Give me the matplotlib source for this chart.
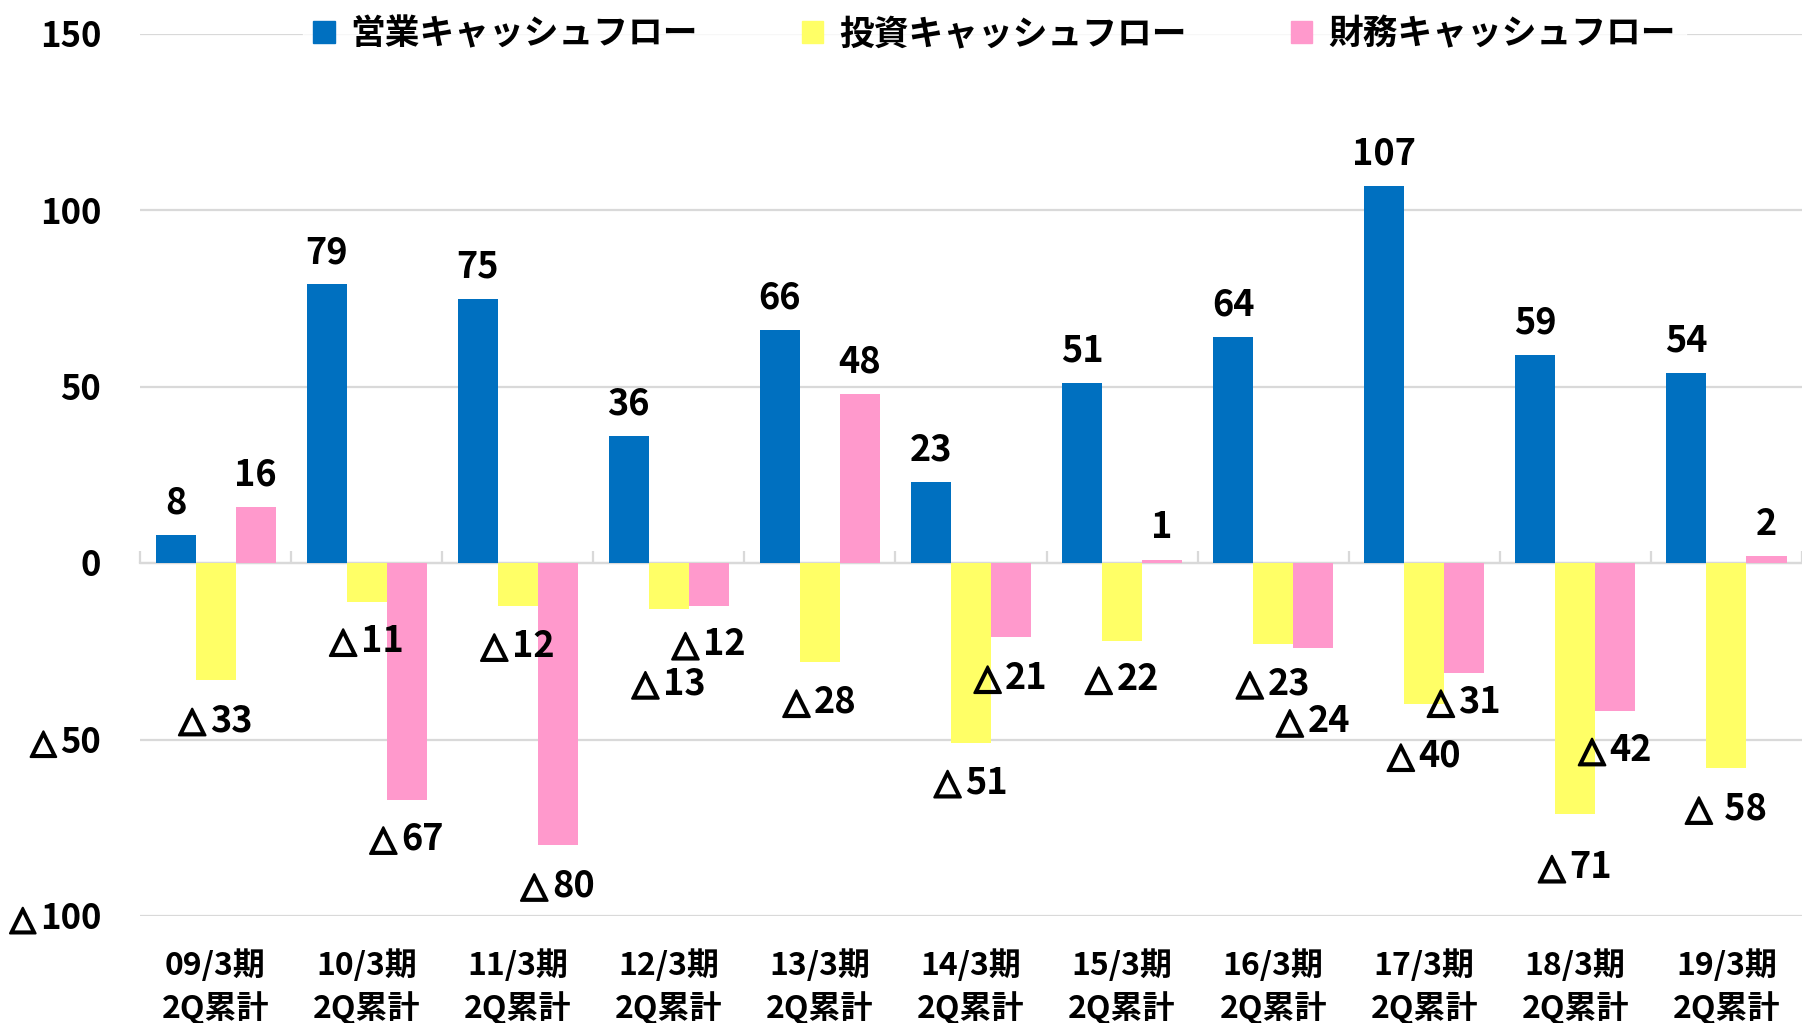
import numpy as np
import matplotlib
matplotlib.use("Agg")
import matplotlib.pyplot as plt
import matplotlib.transforms as mtransforms
import matplotlib.patheffects as pe
from matplotlib.patches import Patch
from matplotlib.offsetbox import TextArea, HPacker, AnnotationBbox

plt.rcParams['font.family'] = ['Noto Sans CJK JP', 'DejaVu Sans']
plt.rcParams['font.weight'] = 'bold'

# data (億円)
periods = ['09/3期', '10/3期', '11/3期', '12/3期', '13/3期', '14/3期',
           '15/3期', '16/3期', '17/3期', '18/3期', '19/3期']
period_sub = '2Q累計'
series_names = ['営業キャッシュフロー', '投資キャッシュフロー', '財務キャッシュフロー']
operating = [8, 79, 75, 36, 66, 23, 51, 64, 107, 59, 54]
investing = [-33, -11, -12, -13, -28, -51, -22, -23, -40, -71, -58]
financing = [16, -67, -80, -12, 48, -21, 1, -24, -31, -42, 2]
yticks = [-100, -50, 0, 50, 100, 150]

# hand placed label heights for negative values (as in the original)
inv_label_y = [-44.6, -22.1, -23.5, -34.2, -39.4, -62.2, -32.9, -34.2, -54.7, -86.3, -69.7]
fin_label_y = [None, -78.2, -91.5, -23.1, None, -32.6, None, -45.0, -39.4, -53.1, None]

colors = ['#0070C0', '#FFFF66', '#FF99CC']
LAB_FS = 26
TRI_FS = 25


def tri_box(v, fs, sep_txt=''):
    # small "△" + number, like the Japanese minus sign in the original
    if v >= 0:
        return TextArea(str(v), textprops=dict(fontsize=fs, fontweight='bold'))
    t = TextArea('△', textprops=dict(fontsize=TRI_FS * fs / LAB_FS, fontweight='bold',
                                     family='DejaVu Sans',
                                     path_effects=[pe.withStroke(linewidth=1.6, foreground='black')]))
    n = TextArea(sep_txt + str(abs(v)), textprops=dict(fontsize=fs, fontweight='bold'))
    return HPacker(children=[t, n], align='baseline', pad=0, sep=3)


fig = plt.figure(figsize=(18.02, 10.23), dpi=100)
ax = fig.add_axes([0.0777, 0.1046, 0.9223, 0.8622])

x = np.arange(len(periods))
w = 0.265
series = [operating, investing, financing]
for k in range(3):
    ax.bar(x + (k - 1) * w, series[k], width=w, color=colors[k], zorder=3)

ax.set_xlim(-0.5, len(periods) - 0.5)
ax.set_ylim(-100, 150)
ax.set_yticks(yticks)
ax.set_yticklabels([])
ax.tick_params(axis='y', length=0)
ax.grid(axis='y', color='#D9D9D9', linewidth=1.6, zorder=0)
ax.set_axisbelow(True)

# y tick labels
ytrans = mtransforms.blended_transform_factory(ax.transAxes, ax.transData)
for yv in yticks:
    ab = AnnotationBbox(tri_box(yv, 25), (0, yv), xycoords=ytrans,
                        xybox=(-28, -2), boxcoords='offset points',
                        box_alignment=(1, 0.5), frameon=False, pad=0)
    ax.add_artist(ab)

for s in ['top', 'right', 'left']:
    ax.spines[s].set_visible(False)
ax.spines['bottom'].set_position(('data', 0))
ax.spines['bottom'].set_color('#D9D9D9')
ax.spines['bottom'].set_linewidth(1.6)
ax.spines['bottom'].set_zorder(2)
ax.set_xticks(np.arange(-0.5, len(periods), 1.0))
ax.set_xticklabels([])
ax.tick_params(axis='x', direction='in', length=9, width=1.6, color='#D9D9D9')

# category labels under the plot
trans = mtransforms.blended_transform_factory(ax.transData, ax.transAxes)
for i, p in enumerate(periods):
    ax.text(i, -0.038, p + '\n' + period_sub, transform=trans, ha='center', va='top',
            fontsize=23, fontweight='bold', linespacing=1.32)

# value labels
for k in range(3):
    for i, v in enumerate(series[k]):
        xc = i + (k - 1) * w
        if v >= 0:
            ax.annotate(str(v), (xc, v), xytext=(0, 23), textcoords='offset points',
                        ha='center', va='center', fontsize=LAB_FS, fontweight='bold')
            continue
        if k == 1:
            pos = (i, inv_label_y[i])
            box = tri_box(v, LAB_FS, ' ' if i == 10 else '')
        else:
            pos = (xc, fin_label_y[i])
            box = tri_box(v, LAB_FS)
        ab = AnnotationBbox(box, pos, frameon=False, pad=0, box_alignment=(0.5, 0.5),
                            zorder=5)
        ax.add_artist(ab)

handles = [Patch(color=c) for c in colors]
leg = ax.legend(handles, series_names, loc='center', bbox_to_anchor=(0.514, 1.0),
                ncol=3, frameon=True, fontsize=25, handlelength=0.62, handleheight=0.62,
                handletextpad=0.45, columnspacing=3.0, borderpad=0.3, fancybox=False)
leg.get_frame().set_facecolor('white')
leg.get_frame().set_edgecolor('white')
for t in leg.get_texts():
    t.set_fontweight('bold')

fig.savefig('out.png', dpi=100)
